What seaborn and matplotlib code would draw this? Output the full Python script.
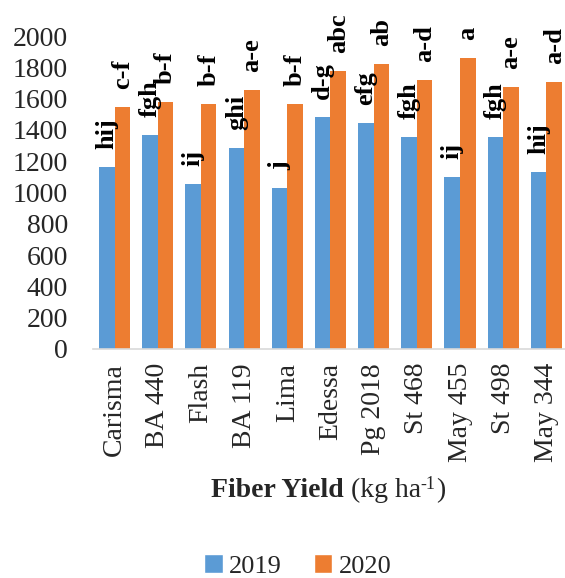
import matplotlib
matplotlib.use("Agg")
import matplotlib.pyplot as plt
import seaborn as sns
import pandas as pd
from matplotlib.patches import Patch

# Cultivars and fiber yield (kg/ha) for the two seasons
cultivars = ["Carisma", "BA 440", "Flash", "BA 119", "Lima", "Edessa",
             "Pg 2018", "St 468", "May 455", "St 498", "May 344"]
yield_2019 = [1160, 1365, 1055, 1282, 1027, 1480, 1446, 1353, 1097, 1353, 1133]
yield_2020 = [1548, 1576, 1567, 1655, 1567, 1776, 1823, 1717, 1857, 1672, 1708]
letters_2019 = ["hij", "fgh", "ij", "ghi", "j", "d-g", "efg", "fgh", "ij", "fgh", "hij"]
letters_2020 = ["c-f", "b-f", "b-f", "a-e", "b-f", "abc", "ab", "a-d", "a", "a-e", "a-d"]
years = ["2019", "2020"]
y_ticks = list(range(0, 2001, 200))

blue = "#5B9BD5"
orange = "#ED7D31"

df = pd.DataFrame({
    "cultivar": cultivars * 2,
    "yield": yield_2019 + yield_2020,
    "year": [years[0]] * len(cultivars) + [years[1]] * len(cultivars),
})

sns.set_theme(style="white")
plt.rcParams["font.family"] = ["Liberation Serif", "DejaVu Serif"]

fig = plt.figure(figsize=(5.65, 5.78), dpi=100)
ax = fig.add_axes([0.1646, 0.3962, 0.8407, 0.5415])

sns.barplot(data=df, x="cultivar", y="yield", hue="year", order=cultivars,
            hue_order=years, palette=[blue, orange], saturation=1,
            width=0.72, linewidth=0, errorbar=None, legend=False, ax=ax)

for container, labels in zip(ax.containers, [letters_2019, letters_2020]):
    ax.bar_label(container, labels=labels, rotation=90, padding=13,
                 fontsize=19, fontweight="bold", color="black", clip_on=False)

ax.set_ylim(0, 2000)
ax.set_yticks(y_ticks)
ax.set_yticklabels([str(t) for t in y_ticks], fontsize=20)
ax.set_xlim(-0.5, len(cultivars) - 0.5)
ax.set_xticks(range(len(cultivars)))
ax.set_xticklabels(cultivars, rotation=90, fontsize=20, va="top", ha="center")
ax.tick_params(axis="y", length=0, pad=18)
ax.tick_params(axis="x", length=0, pad=10)
ax.set_xlabel("")
ax.set_ylabel("")

for side in ["top", "right", "left"]:
    ax.spines[side].set_visible(False)
ax.spines["bottom"].set_color("#D9D9D9")
ax.spines["bottom"].set_linewidth(1.2)
ax.grid(False)

# Axis title built from pieces: bold name, regular unit, raised exponent
renderer = fig.canvas.get_renderer()
pieces = [("Fiber Yield", dict(fontweight="bold", fontsize=20), 0),
          (" (kg ha", dict(fontsize=20), 0),
          ("-1", dict(fontsize=13), 8),
          (")", dict(fontsize=20), 0)]
base_y = 1 - 497 / 578
tmp = [fig.text(0, base_y, s, va="baseline", **kw) for s, kw, _ in pieces]
widths = [t.get_window_extent(renderer).width for t in tmp]
for t in tmp:
    t.remove()
x = 328 - sum(widths) / 2
for (s, kw, dy), w in zip(pieces, widths):
    fig.text(x / 565, base_y + dy / 578, s, va="baseline", ha="left", **kw)
    x += w

handles = [Patch(facecolor=blue, label=years[0]),
           Patch(facecolor=orange, label=years[1])]
fig.legend(handles=handles, loc="center", bbox_to_anchor=(298 / 565, 1 - 566 / 578),
           ncol=2, frameon=False, fontsize=19, handlelength=0.7, handleheight=0.7,
           handletextpad=0.25, columnspacing=1.2)

fig.savefig("out.png", dpi=100)
